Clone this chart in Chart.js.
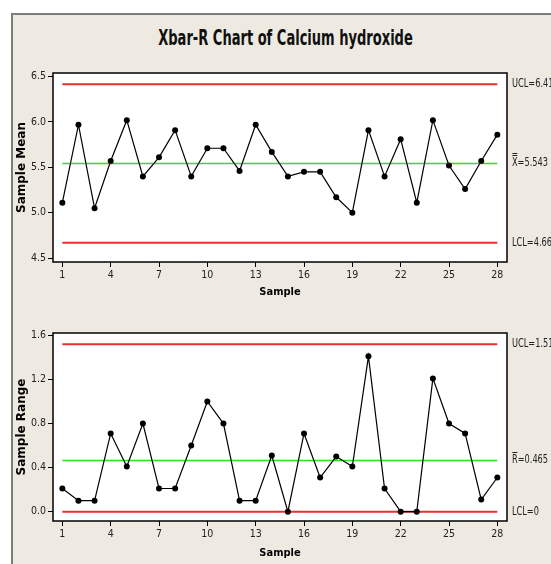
<!DOCTYPE html>
<html>
<head>
<meta charset="utf-8">
<script src="https://cdn.jsdelivr.net/npm/chart.js@4"></script>
<style>
  body { margin: 0; background: #fff; width: 551px; height: 564px; overflow: hidden; position: relative; }
  #frame { position: absolute; left: 11px; top: 13px; width: 560px; height: 570px; background: #eeeae1;
           border-left: 2px solid #7d7d7d; border-top: 2px solid #7d7d7d; }
  #title { position: absolute; left: 10px; width: 551px; top: 26px; text-align: center; color: #111;
           font: bold 21px "DejaVu Sans Condensed", "Liberation Sans Narrow", sans-serif;
           transform: scaleX(0.69); transform-origin: center; }
  canvas { position: absolute; left: 0; }
</style>
</head>
<body>
<div id="frame"></div>
<div id="title">Xbar-R Chart of Calcium hydroxide</div>
<canvas id="meanChart" width="551" height="300" style="top:0"></canvas>
<canvas id="rangeChart" width="551" height="264" style="top:300px"></canvas>
<script>
const samples = [1, 2, 3, 4, 5, 6, 7, 8, 9, 10, 11, 12, 13, 14, 15, 16, 17, 18, 19, 20, 21, 22, 23, 24, 25, 26, 27, 28];
const sampleMeans = [5.11, 5.97, 5.05, 5.57, 6.02, 5.40, 5.61, 5.91, 5.40, 5.71, 5.71, 5.46, 5.97, 5.67,
                     5.40, 5.45, 5.45, 5.17, 5.00, 5.91, 5.40, 5.81, 5.11, 6.02, 5.52, 5.26, 5.57, 5.86];
const sampleRanges = [0.21, 0.10, 0.10, 0.71, 0.41, 0.80, 0.21, 0.21, 0.60, 1.00, 0.80, 0.10, 0.10, 0.51,
                      0.00, 0.71, 0.31, 0.50, 0.41, 1.41, 0.21, 0.00, 0.00, 1.21, 0.80, 0.71, 0.11, 0.31];
const meanLimits = { ucl: 6.417, center: 5.543, lcl: 4.669 };
const rangeLimits = { ucl: 1.519, center: 0.465, lcl: 0 };
const xTicks = [1, 4, 7, 10, 13, 16, 19, 22, 25, 28];
const meanTicks = [4.5, 5.0, 5.5, 6.0, 6.5];
const rangeTicks = [0.0, 0.4, 0.8, 1.2, 1.6];

const NARROW = '"DejaVu Sans Condensed", "Liberation Sans Narrow", sans-serif';

// white plot box, its frame and the limit labels at the right
const boxPlugin = {
  id: 'box',
  beforeDatasetsDraw(chart) {
    const { ctx, chartArea: a } = chart;
    ctx.save();
    ctx.fillStyle = '#fff';
    ctx.fillRect(a.left, a.top, a.right - a.left, a.bottom - a.top);
    ctx.restore();
  },
  afterDatasetsDraw(chart, args, opts) {
    const { ctx, chartArea: a, scales: { y } } = chart;
    ctx.save();
    ctx.strokeStyle = '#000';
    ctx.lineWidth = 1.5;
    ctx.strokeRect(a.left, a.top, a.right - a.left, a.bottom - a.top);
    ctx.fillStyle = '#222';
    ctx.font = '12px ' + NARROW;
    ctx.textBaseline = 'middle';
    opts.labels.forEach(l => {
      const yy = Math.round(y.getPixelForValue(l.value));
      ctx.save();
      ctx.translate(a.right + 5, yy);
      ctx.scale(0.76, 1);
      ctx.fillText(l.text, 0, 0);
      const w = ctx.measureText(l.text[0]).width;
      for (let i = 0; i < l.bars; i++) ctx.fillRect(0.5, -8 - i * 2, w - 1, 1);
      ctx.restore();
    });
    ctx.restore();
  }
};

function limitLine(value, color, width) {
  return {
    data: [{ x: samples[0], y: value }, { x: samples[samples.length - 1], y: value }],
    borderColor: color, borderWidth: width, pointRadius: 0
  };
}

function controlChart(id, values, lim, yMin, yMax, yTicks, yTitle, area, canvasH, xTitlePad, labels) {
  return new Chart(document.getElementById(id), {
    type: 'line',
    data: {
      datasets: [
        {
          data: values.map((v, i) => ({ x: samples[i], y: v })),
          borderColor: '#000', borderWidth: 1.2, tension: 0,
          pointRadius: 3, pointBackgroundColor: '#000', pointBorderWidth: 0
        },
        limitLine(lim.center, '#2ee02e', 1.5),
        limitLine(lim.ucl, '#e8302f', 2),
        limitLine(lim.lcl, '#e8302f', 2)
      ]
    },
    options: {
      responsive: false,
      animation: false,
      layout: { padding: { left: 0, top: area.top, right: 551 - area.right, bottom: 0 } },
      plugins: { legend: { display: false }, tooltip: { enabled: false }, box: { labels } },
      scales: {
        x: {
          type: 'linear', min: 0.42, max: 28.6,
          afterBuildTicks: s => { s.ticks = xTicks.map(v => ({ value: v })); },
          afterFit: s => { s.height = canvasH - area.bottom; },
          grid: { drawOnChartArea: false, tickLength: 5, color: '#000' },
          border: { display: false },
          ticks: { color: '#222', padding: 2, maxRotation: 0, font: { family: NARROW, size: 10.5 } },
          title: { display: true, text: 'Sample', color: '#000', padding: { top: 0, bottom: xTitlePad },
                   font: { family: NARROW, size: 11, weight: 'bold' } }
        },
        y: {
          min: yMin, max: yMax,
          afterBuildTicks: s => { s.ticks = yTicks.map(v => ({ value: v })); },
          afterFit: s => { s.width = 53; },
          grid: { drawOnChartArea: false, tickLength: 5, color: '#000' },
          border: { display: false },
          ticks: { color: '#222', padding: 2, font: { family: NARROW, size: 10.5 }, callback: v => v.toFixed(1) },
          title: { display: true, text: yTitle, color: '#000', padding: { top: 15, bottom: 0 },
                   font: { family: '"DejaVu Sans", sans-serif', size: 12, weight: 'bold' } }
        }
      }
    },
    plugins: [boxPlugin]
  });
}

controlChart('meanChart', sampleMeans, meanLimits, 4.456, 6.54, meanTicks, 'Sample Mean',
  { top: 73, bottom: 262, right: 507 }, 300, 1.5,
  [{ value: meanLimits.ucl, text: 'UCL=6.417', bars: 0 },
   { value: meanLimits.center, text: 'X=5.543', bars: 2 },
   { value: meanLimits.lcl, text: 'LCL=4.669', bars: 0 }]);

controlChart('rangeChart', sampleRanges, rangeLimits, -0.085, 1.622, rangeTicks, 'Sample Range',
  { top: 33, bottom: 221, right: 507 }, 264, 4.5,
  [{ value: rangeLimits.ucl, text: 'UCL=1.519', bars: 0 },
   { value: rangeLimits.center, text: 'R=0.465', bars: 1 },
   { value: rangeLimits.lcl, text: 'LCL=0', bars: 0 }]);
</script>
</body>
</html>
